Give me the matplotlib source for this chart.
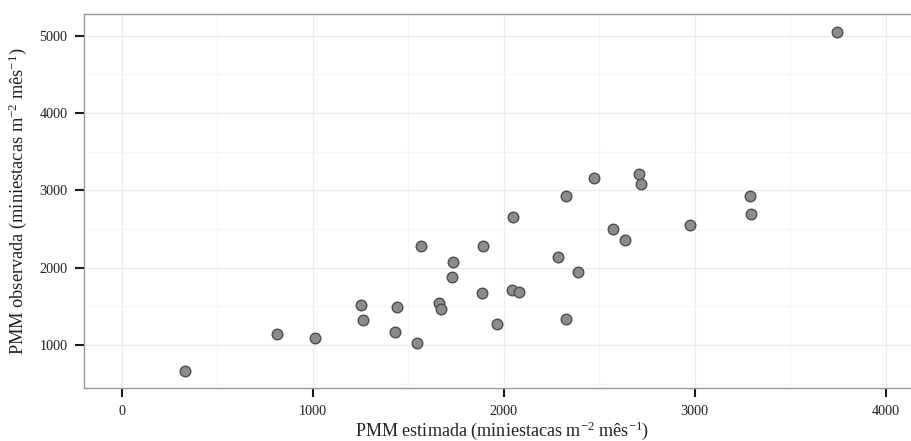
import numpy as np
import matplotlib
matplotlib.use('Agg')
import matplotlib.pyplot as plt
from matplotlib.ticker import MultipleLocator

plt.rcParams['font.family'] = ['Liberation Serif', 'DejaVu Serif']
plt.rcParams['mathtext.fontset'] = 'custom'
plt.rcParams['mathtext.rm'] = 'Liberation Serif'
plt.rcParams['mathtext.it'] = 'Liberation Serif:italic'

# PMM estimada (x) e observada (y)
pmm_estimada = [331, 813, 1010, 1251, 1265, 1431, 1443, 1548, 1565, 1663,
                1672, 1735, 1731, 1893, 1888, 1965, 2049, 2045, 2078, 2326,
                2473, 2708, 2717, 2574, 2637, 2284, 2387, 2328, 2974, 3288,
                3295, 3747]
pmm_observada = [662, 1146, 1091, 1515, 1318, 1168, 1494, 1026, 2278, 1541,
                 1460, 2068, 1884, 2278, 1669, 1275, 2660, 1716, 1691, 2926,
                 3157, 3213, 3080, 2505, 2355, 2136, 1940, 1331, 2548, 2930,
                 2690, 5052]

fig = plt.figure(figsize=(9.11, 4.41), dpi=100)
W, H = 911, 441
ax = fig.add_axes([83.5 / W, 1 - 388.3 / H, (924 - 83.5) / W, (388.3 - 14) / H])

ax.scatter(pmm_estimada, pmm_observada, s=58, facecolor='#8c8c8c',
           edgecolor='#4d4d4d', linewidth=1.0, zorder=3)

ax.set_xlim(-200, 4200)
ax.set_ylim(440, 5280)
ax.xaxis.set_major_locator(MultipleLocator(1000))
ax.yaxis.set_major_locator(MultipleLocator(1000))
ax.xaxis.set_minor_locator(MultipleLocator(500))
ax.yaxis.set_minor_locator(MultipleLocator(500))

ax.grid(which='major', color='#ebebeb', linewidth=1.0, zorder=0)
ax.grid(which='minor', color='#f5f5f5', linewidth=0.8, zorder=0)
ax.set_axisbelow(True)

for s in ax.spines.values():
    s.set_color('#999999')
    s.set_linewidth(1.0)

ax.tick_params(which='major', length=6.5, width=1.5, color='#1a1a1a',
               labelsize=10.3, labelcolor='#222222', pad=5)
ax.tick_params(axis='x', pad=5.5)
ax.tick_params(which='minor', length=0)

ax.set_xlabel('PMM estimada (miniestacas m$^{-2}$ mês$^{-1}$)', fontsize=13.1,
              color='#222222')
ax.set_ylabel('PMM observada (miniestacas m$^{-2}$ mês$^{-1}$)', fontsize=13.2,
              color='#222222')
ax.xaxis.set_label_coords(0.498, -0.084)
ax.yaxis.set_label_coords(-0.065, 0.5)

fig.savefig('out.png', dpi=100)
